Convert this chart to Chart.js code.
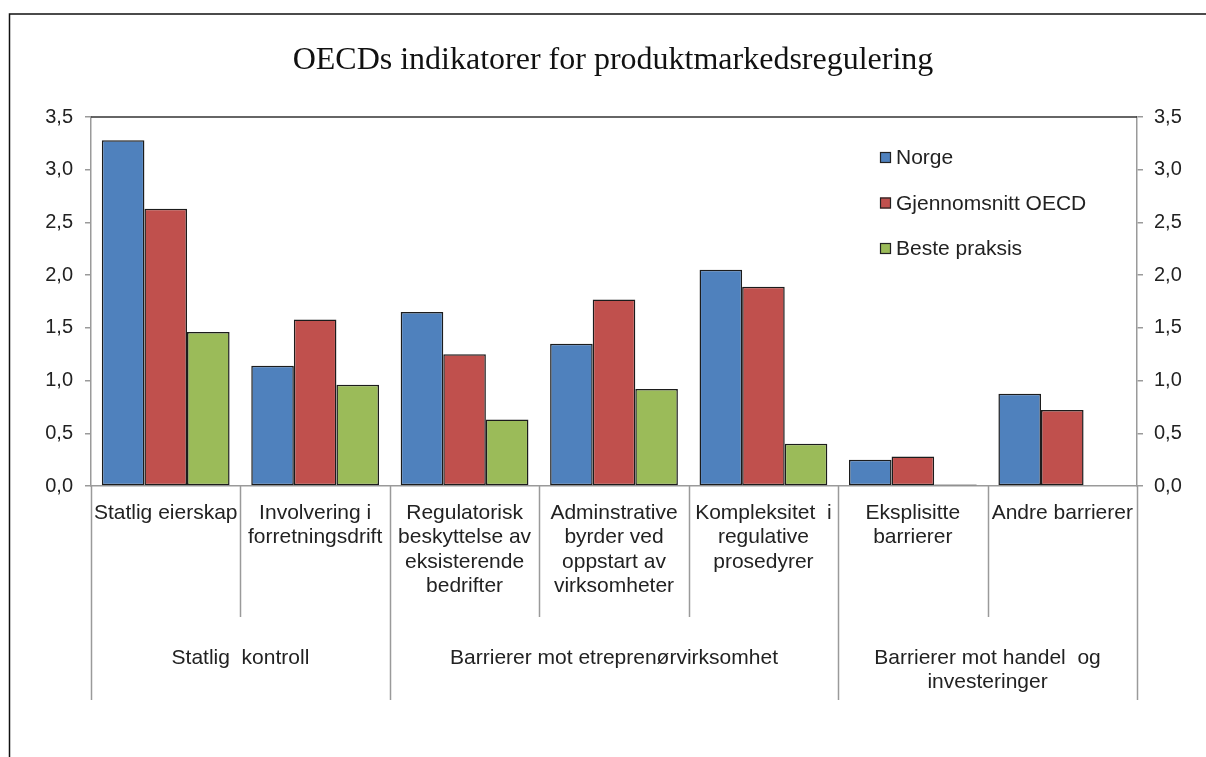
<!DOCTYPE html>
<html>
<head>
<meta charset="utf-8">
<script src="https://cdn.jsdelivr.net/npm/chart.js@4.4.1/dist/chart.umd.min.js"></script>
<style>
  html, body { margin: 0; padding: 0; background: #fff; }
  #wrap { width: 1206px; height: 757px; }
</style>
</head>
<body>
<div id="wrap"><canvas id="chart" width="1206" height="757"></canvas></div>
<script>
// categories (multi-line labels) and their groups
var categories = [
  ["Statlig eierskap"],
  ["Involvering i", "forretningsdrift"],
  ["Regulatorisk", "beskyttelse av", "eksisterende", "bedrifter"],
  ["Adminstrative", "byrder ved", "oppstart av", "virksomheter"],
  ["Kompleksitet  i", "regulative", "prosedyrer"],
  ["Eksplisitte", "barrierer"],
  ["Andre barrierer"]
];
var groups = [
  ["Statlig  kontroll"],
  ["Barrierer mot etreprenørvirksomhet"],
  ["Barrierer mot handel  og", "investeringer"]
];
var groupSizes = [2, 3, 2];

var seriesNames = ["Norge", "Gjennomsnitt OECD", "Beste praksis"];
var norge = [3.28, 1.14, 1.65, 1.35, 2.05, 0.25, 0.875];
var oecd = [2.63, 1.58, 1.25, 1.77, 1.89, 0.28, 0.72];
var beste = [1.46, 0.96, 0.63, 0.92, 0.40, 0.015, null];

var yTicks = [0, 0.5, 1, 1.5, 2, 2.5, 3, 3.5];

var colors = ["#4F81BD", "#C0504D", "#9BBB59"];
var FONT = "'Liberation Sans', Arial, sans-serif";

function fmt(v) {
  return v.toFixed(1).replace(".", ",");
}

var decorPlugin = {
  id: "decor",
  afterDraw: function (chart) {
    var ctx = chart.ctx;
    var area = chart.chartArea;
    var x = chart.scales.x;
    ctx.save();

    // outer frame (top + left only visible)
    ctx.strokeStyle = "#111";
    ctx.lineWidth = 1.5;
    ctx.beginPath();
    ctx.moveTo(9.5, 757);
    ctx.lineTo(9.5, 14);
    ctx.lineTo(1206, 14);
    ctx.stroke();

    // title
    ctx.fillStyle = "#111";
    ctx.font = "32px 'Liberation Serif', 'Times New Roman', serif";
    ctx.textAlign = "center";
    ctx.textBaseline = "alphabetic";
    ctx.fillText("OECDs indikatorer for produktmarkedsregulering", 613, 69);

    // top edge of plot
    ctx.strokeStyle = "#333";
    ctx.lineWidth = 1.5;
    ctx.beginPath();
    ctx.moveTo(area.left, area.top);
    ctx.lineTo(area.right, area.top);
    ctx.stroke();

    // category boundaries
    var n = categories.length;
    var step = (area.right - area.left) / n;
    var bounds = [];
    for (var i = 0; i <= n; i++) bounds.push(area.left + i * step);

    var groupEdges = [0];
    var acc = 0;
    groupSizes.forEach(function (s) { acc += s; groupEdges.push(acc); });

    ctx.strokeStyle = "#9a9a9a";
    ctx.lineWidth = 1.5;
    for (var b = 0; b <= n; b++) {
      var isGroup = groupEdges.indexOf(b) >= 0;
      var bx = Math.round(bounds[b]) + 0.5;
      ctx.beginPath();
      ctx.moveTo(bx, area.bottom);
      ctx.lineTo(bx, isGroup ? 700 : 617);
      ctx.stroke();
    }

    // category labels
    ctx.fillStyle = "#222";
    ctx.font = "21px " + FONT;
    ctx.textAlign = "center";
    ctx.textBaseline = "middle";
    categories.forEach(function (lines, idx) {
      var cx = x.getPixelForValue(idx);
      lines.forEach(function (t, k) {
        ctx.fillText(t, cx, 513 + k * 24.5);
      });
    });

    // group labels
    groups.forEach(function (lines, g) {
      var cx = (bounds[groupEdges[g]] + bounds[groupEdges[g + 1]]) / 2;
      lines.forEach(function (t, k) {
        ctx.fillText(t, cx, 658 + k * 24.5);
      });
    });

    // legend inside plot
    var rows = [157.5, 203, 248.5];
    ctx.textAlign = "left";
    seriesNames.forEach(function (name, s) {
      var ry = rows[s];
      ctx.fillStyle = colors[s];
      ctx.fillRect(880, ry - 5.5, 11, 11);
      ctx.strokeStyle = "#222";
      ctx.lineWidth = 1.2;
      ctx.strokeRect(880.5, ry - 5, 10, 10);
      ctx.fillStyle = "#222";
      ctx.fillText(name, 896, ry + 1);
    });

    ctx.restore();
  }
};

function yAxis(position, width, pad) {
  return {
    position: position,
    min: 0,
    max: 3.5,
    afterBuildTicks: function (scale) {
      scale.ticks = yTicks.map(function (v) { return { value: v }; });
    },
    afterFit: function (scale) { scale.width = width; },
    ticks: {
      color: "#222",
      padding: pad,
      font: { family: FONT, size: 20 },
      callback: function (v) { return fmt(v); }
    },
    grid: {
      drawOnChartArea: false,
      drawTicks: true,
      tickLength: 6,
      color: "#9a9a9a",
      lineWidth: 1.5
    },
    border: { display: true, color: "#9a9a9a", width: 1.5 }
  };
}

new Chart(document.getElementById("chart"), {
  type: "bar",
  data: {
    labels: categories,
    datasets: [
      { label: seriesNames[0], data: norge, backgroundColor: colors[0], yAxisID: "y" },
      { label: seriesNames[1], data: oecd, backgroundColor: colors[1], yAxisID: "y" },
      { label: seriesNames[2], data: beste, backgroundColor: colors[2], yAxisID: "y" }
    ].map(function (d) {
      d.borderColor = "#1c1c1c";
      d.borderWidth = 1.5;
      d.borderSkipped = false;
      d.categoryPercentage = 0.855;
      d.barPercentage = 1.0;
      return d;
    })
  },
  options: {
    responsive: false,
    animation: false,
    devicePixelRatio: 1,
    layout: { padding: { top: 117, left: 0, right: 0, bottom: 0 } },
    plugins: {
      legend: { display: false },
      title: { display: false },
      tooltip: { enabled: false }
    },
    scales: {
      x: {
        offset: true,
        afterFit: function (scale) { scale.height = 757 - 486; },
        ticks: { display: false },
        grid: { display: false },
        border: { display: true, color: "#9a9a9a", width: 1.5 }
      },
      y: yAxis("left", 91, 12),
      y2: yAxis("right", 69, 11)
    }
  },
  plugins: [decorPlugin]
});
</script>
</body>
</html>
